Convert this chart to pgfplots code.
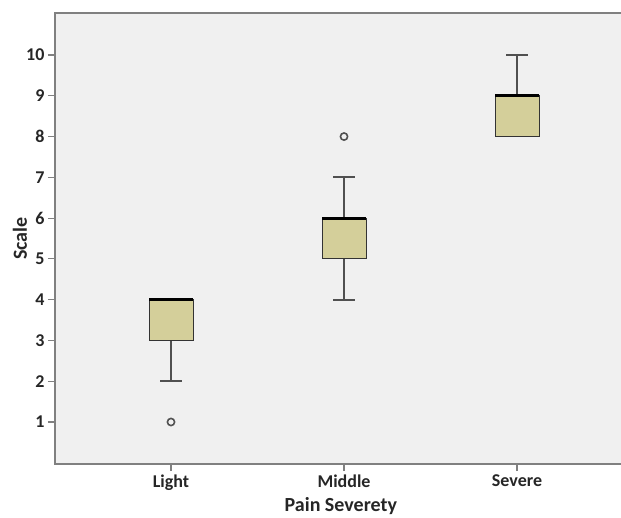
\documentclass[border=0pt]{standalone}
\usepackage{pgfplots}
\pgfplotsset{compat=1.18}
\usepgfplotslibrary{statistics}
\usepackage{fontspec}
\setmainfont{Carlito}
\definecolor{bg}{HTML}{F0F0F0}
\definecolor{boxfill}{HTML}{D4CF9A}
\definecolor{axgray}{HTML}{808080}
\definecolor{whisk}{HTML}{505050}
\begin{document}
\begin{tikzpicture}
\begin{axis}[
  scale only axis, width=566pt, height=451pt,
  xmin=0.3295, xmax=3.601, ymin=-0.03, ymax=11.03,
  axis lines*=left,
  axis line style={axgray, line width=1.6pt, line cap=rect},
  axis background/.style={fill=bg},
  xtick={1,2,3}, xticklabels={Light,Middle,Severe},
  ytick={1,2,3,4,5,6,7,8,9,10},
  tick align=outside, major tick length=7pt,
  tick style={axgray, line width=1.2pt},
  every tick label/.append style={font=\fontsize{18}{21}\selectfont\bfseries, text=black!85},
  /pgf/number format/assume math mode=true,
  xlabel={Pain Severety}, ylabel={Scale},
  every axis x label/.style={at={(axis description cs:0.505,0)}, yshift=-47pt, anchor=base, font=\fontsize{20}{23}\selectfont\bfseries, text=black!85},
  every axis y label/.style={at={(axis description cs:-0.0618,0.5)}, rotate=90, anchor=center, font=\fontsize{20}{23}\selectfont\bfseries, text=black!85},
  boxplot/draw direction=y,
  boxplot/box extend=0.254,
  boxplot/whisker extend=0.127,
  boxplot/every box/.style={fill=boxfill, draw=black!80, line width=0.9pt},
  boxplot/every whisker/.style={draw=whisk, line width=1.8pt},
  boxplot/every median/.style={draw=black, line width=2.8pt},
  clip=false,
]
\addplot[boxplot prepared={draw position=1, lower whisker=2, lower quartile=3, median=4, upper quartile=4, upper whisker=4},
  mark=o, mark size=3.6pt, mark options={draw=whisk, line width=1.6pt, fill=none}]
  coordinates {(0,1)};
\addplot[boxplot prepared={draw position=2, lower whisker=4, lower quartile=5, median=6, upper quartile=6, upper whisker=7},
  mark=o, mark size=3.6pt, mark options={draw=whisk, line width=1.6pt, fill=none}]
  coordinates {(0,8)};
\addplot[boxplot prepared={draw position=3, lower whisker=8, lower quartile=8, median=9, upper quartile=9, upper whisker=10}]
  coordinates {};
\draw[axgray, line width=1.6pt] (rel axis cs:0,1) -- (rel axis cs:1,1);
\coordinate (O) at (rel axis cs:0,0);
\coordinate (T) at (rel axis cs:1,1);
\end{axis}
\pgfresetboundingbox
\path ([shift={(-55pt,-53pt)}]O) rectangle ([shift={(0pt,13pt)}]T);
\end{tikzpicture}
\end{document}
